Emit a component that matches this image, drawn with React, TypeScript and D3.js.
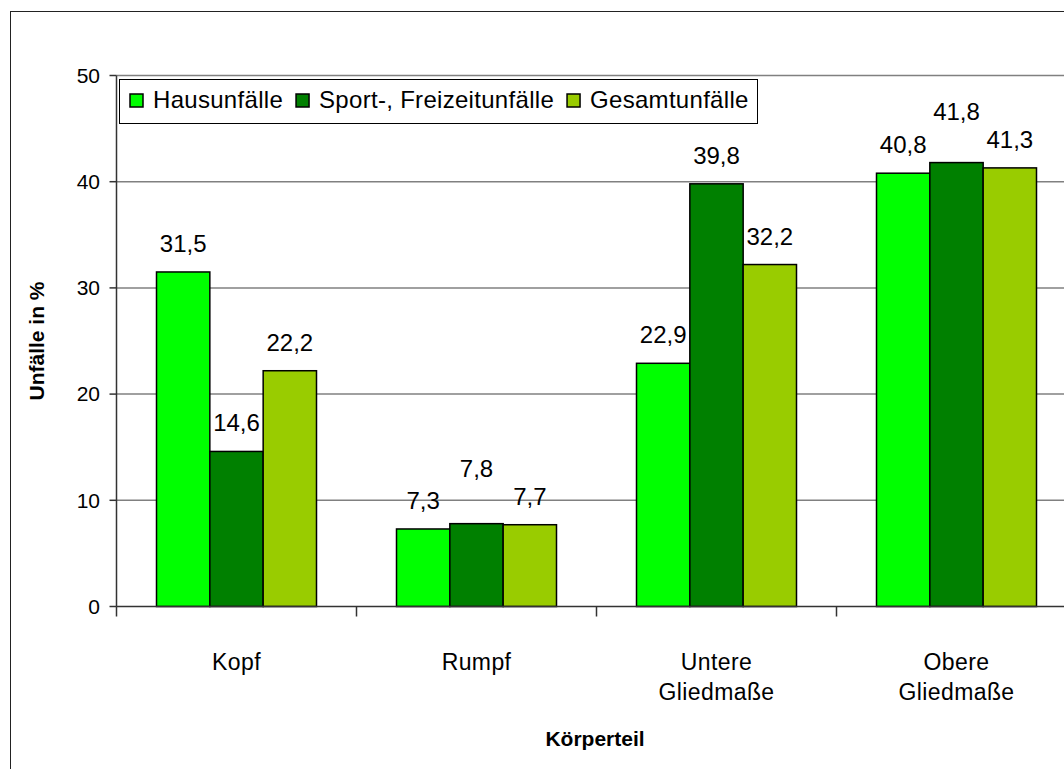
import React from "react";
import * as d3 from "d3";

const categories: string[][] = [["Kopf"], ["Rumpf"], ["Untere", "Gliedmaße"], ["Obere", "Gliedmaße"]];
const categoryKeys = ["Kopf", "Rumpf", "Untere Gliedmaße", "Obere Gliedmaße"];
const seriesNames = ["Hausunfälle", "Sport-, Freizeitunfälle", "Gesamtunfälle"];
const seriesColors = ["#00FF00", "#008000", "#99CC00"];
const hausunfaelle = [31.5, 7.3, 22.9, 40.8];
const sportFreizeit = [14.6, 7.8, 39.8, 41.8];
const gesamt = [22.2, 7.7, 32.2, 41.3];
const yTicks = [0, 10, 20, 30, 40, 50];

const W = 1064;
const H = 769;
const FONT = "'Liberation Sans', Arial, sans-serif";

const de = d3.formatLocale({ decimal: ",", thousands: ".", grouping: [3], currency: ["", " €"] });
const fmt = de.format(".1f");

function measure(text: string, size: number, spacing = 0): number {
  if (typeof document === "undefined") return text.length * size * 0.5;
  const c = document.createElement("canvas");
  const ctx = c.getContext("2d")!;
  ctx.font = `${size}px ${FONT}`;
  return ctx.measureText(text).width + spacing * text.length;
}

export default function App() {
  const values = [hausunfaelle, sportFreizeit, gesamt];
  const plotLeft = 116.5;
  const plotRight = 1076.5;
  const y = d3.scaleLinear().domain([0, 50]).range([606.5, 75.5]);
  const x = d3.scaleBand<string>().domain(categoryKeys).range([plotLeft, plotRight]).paddingInner(0).paddingOuter(0);
  const x1 = d3.scaleBand<string>().domain(seriesNames).range([0, x.bandwidth()]).paddingInner(0).paddingOuter(0.75);

  const labelSize = 24;
  const labelH = 18;
  const labelOffset = 20;

  // data label placement with simple collision avoidance (Excel-like)
  const labels = categoryKeys.map((c, ci) => {
    const items = seriesNames.map((s, si) => {
      const v = values[si][ci];
      const bx = (x(c) as number) + (x1(s) as number);
      const text = fmt(v);
      return { cx: bx + x1.bandwidth() / 2, base: y(v) - labelOffset, text };
    });
    const mid = items[1];
    const neighbors = [items[0], items[2]];
    const collides = neighbors.some((n) => Math.abs(n.base - mid.base) < labelH);
    if (collides) {
      mid.base = Math.min(...neighbors.map((n) => n.base)) - 28;
    }
    return items;
  });

  // legend layout
  const legendFont = 24;
  const legendSpacing = 0.3;
  const legX = 119.5;
  const legY = 79.5;
  let cursor = legX + 10.5;
  const legendItems = seriesNames.map((name, i) => {
    const sx = cursor;
    const tx = sx + 23;
    const tw = measure(name, legendFont, legendSpacing);
    cursor = tx + tw + 13;
    return { name, color: seriesColors[i], sx, tx };
  });
  const legW = 757.5 - legX;

  return (
    <svg width={W} height={H} style={{ position: "absolute", left: 0, top: 0, background: "#fff" }} fontFamily={FONT}>
      <rect x={10.5} y={11.5} width={1200} height={900} fill="#fff" stroke="#222" strokeWidth={1} />
      {/* gridlines */}
      {yTicks.filter((t) => t > 0).map((t) => (
        <line key={"g" + t} x1={plotLeft} x2={plotRight} y1={y(t)} y2={y(t)} stroke="#808080" strokeWidth={1.5} />
      ))}
      {/* bars */}
      {categoryKeys.map((c, ci) => (
        <g key={c}>
          {seriesNames.map((s, si) => {
            const v = values[si][ci];
            const bx = (x(c) as number) + (x1(s) as number);
            return (
              <rect key={s} x={bx} y={y(v)} width={x1.bandwidth()} height={y(0) - y(v)} fill={seriesColors[si]} stroke="#000" strokeWidth={1.5} />
            );
          })}
        </g>
      ))}
      {/* data labels */}
      {labels.flat().map((l, i) => (
        <text key={"dl" + i} x={l.cx} y={l.base} textAnchor="middle" fontSize={labelSize} fill="#000">
          {l.text}
        </text>
      ))}
      {/* y axis */}
      <line x1={plotLeft} x2={plotLeft} y1={y(50)} y2={y(0)} stroke="#333" strokeWidth={1.5} />
      {yTicks.map((t) => (
        <g key={"t" + t}>
          <line x1={plotLeft - 7} x2={plotLeft} y1={y(t)} y2={y(t)} stroke="#333" strokeWidth={1.5} />
          <text x={100} y={y(t)} dy="0.35em" textAnchor="end" fontSize={21} fill="#000">
            {t}
          </text>
        </g>
      ))}
      {/* x axis */}
      <line x1={plotLeft} x2={plotRight} y1={y(0)} y2={y(0)} stroke="#333" strokeWidth={1.5} />
      {categoryKeys.map((c) => (
        <line key={"xt" + c} x1={x(c) as number} x2={x(c) as number} y1={y(0)} y2={y(0) + 10} stroke="#333" strokeWidth={1.5} />
      ))}
      {categoryKeys.map((c, ci) => (
        <text key={"xl" + c} textAnchor="middle" fontSize={23} letterSpacing={0.4} fill="#000">
          {categories[ci].map((line, li) => (
            <tspan key={li} x={(x(c) as number) + x.bandwidth() / 2} y={670 + li * 30}>
              {line}
            </tspan>
          ))}
        </text>
      ))}
      {/* axis titles */}
      <text x={(plotLeft + plotRight - 1) / 2 - 1} y={746} textAnchor="middle" fontSize={21} fontWeight="bold" fill="#000">
        Körperteil
      </text>
      <text transform={`translate(44,${(y(0) + y(50)) / 2}) rotate(-90)`} textAnchor="middle" fontSize={21} fontWeight="bold" fill="#000">
        Unfälle in %
      </text>
      {/* legend */}
      <rect x={legX} y={legY} width={legW} height={44} fill="#fff" stroke="#000" strokeWidth={1} />
      {legendItems.map((it) => (
        <g key={it.name}>
          <rect x={it.sx} y={94} width={13} height={13} fill={it.color} stroke="#000" strokeWidth={1.5} />
          <text x={it.tx} y={107.5} fontSize={legendFont} letterSpacing={legendSpacing} fill="#000">
            {it.name}
          </text>
        </g>
      ))}
    </svg>
  );
}
